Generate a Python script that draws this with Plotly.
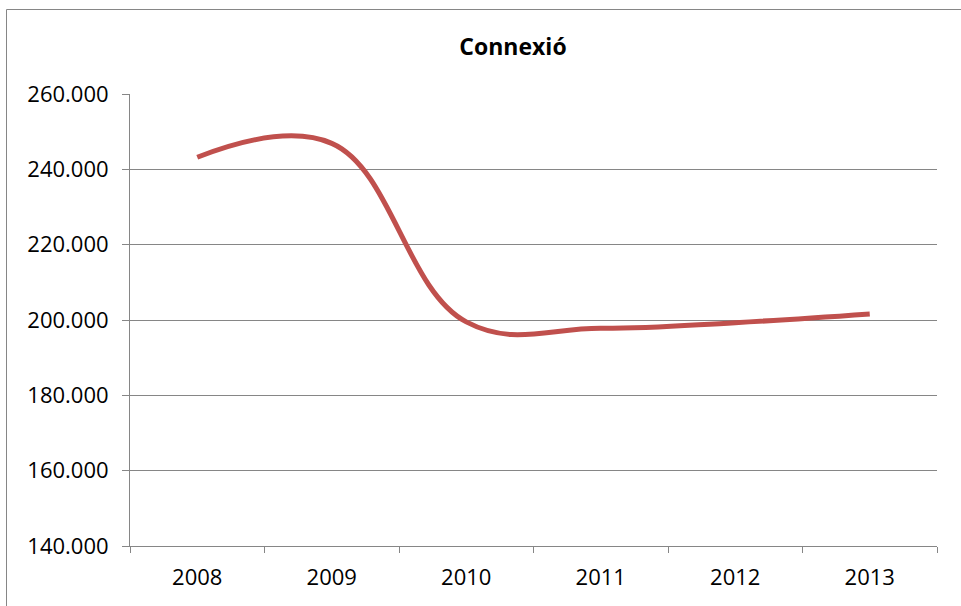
import plotly.graph_objects as go

# Connexió – yearly totals
years = ["2008", "2009", "2010", "2011", "2012", "2013"]
connexio = [243200, 246900, 199500, 197800, 199300, 201600]

y_ticks = [140000, 160000, 180000, 200000, 220000, 240000, 260000]

grid_col = "#868686"
line_col = "#C0504D"
font_family = "Open Sans"

fig = go.Figure()
fig.add_trace(go.Scatter(
    x=years,
    y=connexio,
    mode="lines",
    line=dict(color=line_col, width=5, shape="spline", smoothing=1.15),
    showlegend=False,
    hoverinfo="x+y",
))

fig.update_layout(
    width=961,
    height=606,
    margin=dict(l=130, r=24, t=94, b=60),
    paper_bgcolor="white",
    plot_bgcolor="white",
    separators=",.",
    font=dict(family=font_family, size=22, color="#000000"),
    title=dict(
        text="<b>Connexió</b>",
        x=(513 - 130) / 807,
        xref="paper",
        xanchor="center",
        y=1 - 47 / 606,
        yref="container",
        yanchor="middle",
        font=dict(family=font_family, size=23, color="#000000"),
    ),
    xaxis=dict(
        type="category",
        range=[-0.5, 5.5],
        showgrid=False,
        showline=True,
        linecolor=grid_col,
        linewidth=1,
        ticks="outside",
        tickson="boundaries",
        ticklen=6,
        tickcolor=grid_col,
        ticklabelstandoff=12,
        zeroline=False,
        fixedrange=True,
    ),
    yaxis=dict(
        range=[140000, 260000],
        tickvals=y_ticks,
        tickformat=",d",
        showgrid=True,
        gridcolor=grid_col,
        gridwidth=1,
        showline=True,
        linecolor=grid_col,
        linewidth=1,
        ticks="outside",
        ticklen=7,
        tickcolor=grid_col,
        ticklabelstandoff=9,
        zeroline=False,
        fixedrange=True,
    ),
)

# Chart-area frame
fig.add_shape(
    type="rect",
    xref="paper", yref="paper",
    x0=(6.5 - 130) / 807, x1=1.2,
    y0=-0.3, y1=(546 - 9.5) / 452,
    line=dict(color=grid_col, width=1),
    fillcolor="rgba(0,0,0,0)",
    layer="below",
)

fig.write_html("out.html")
